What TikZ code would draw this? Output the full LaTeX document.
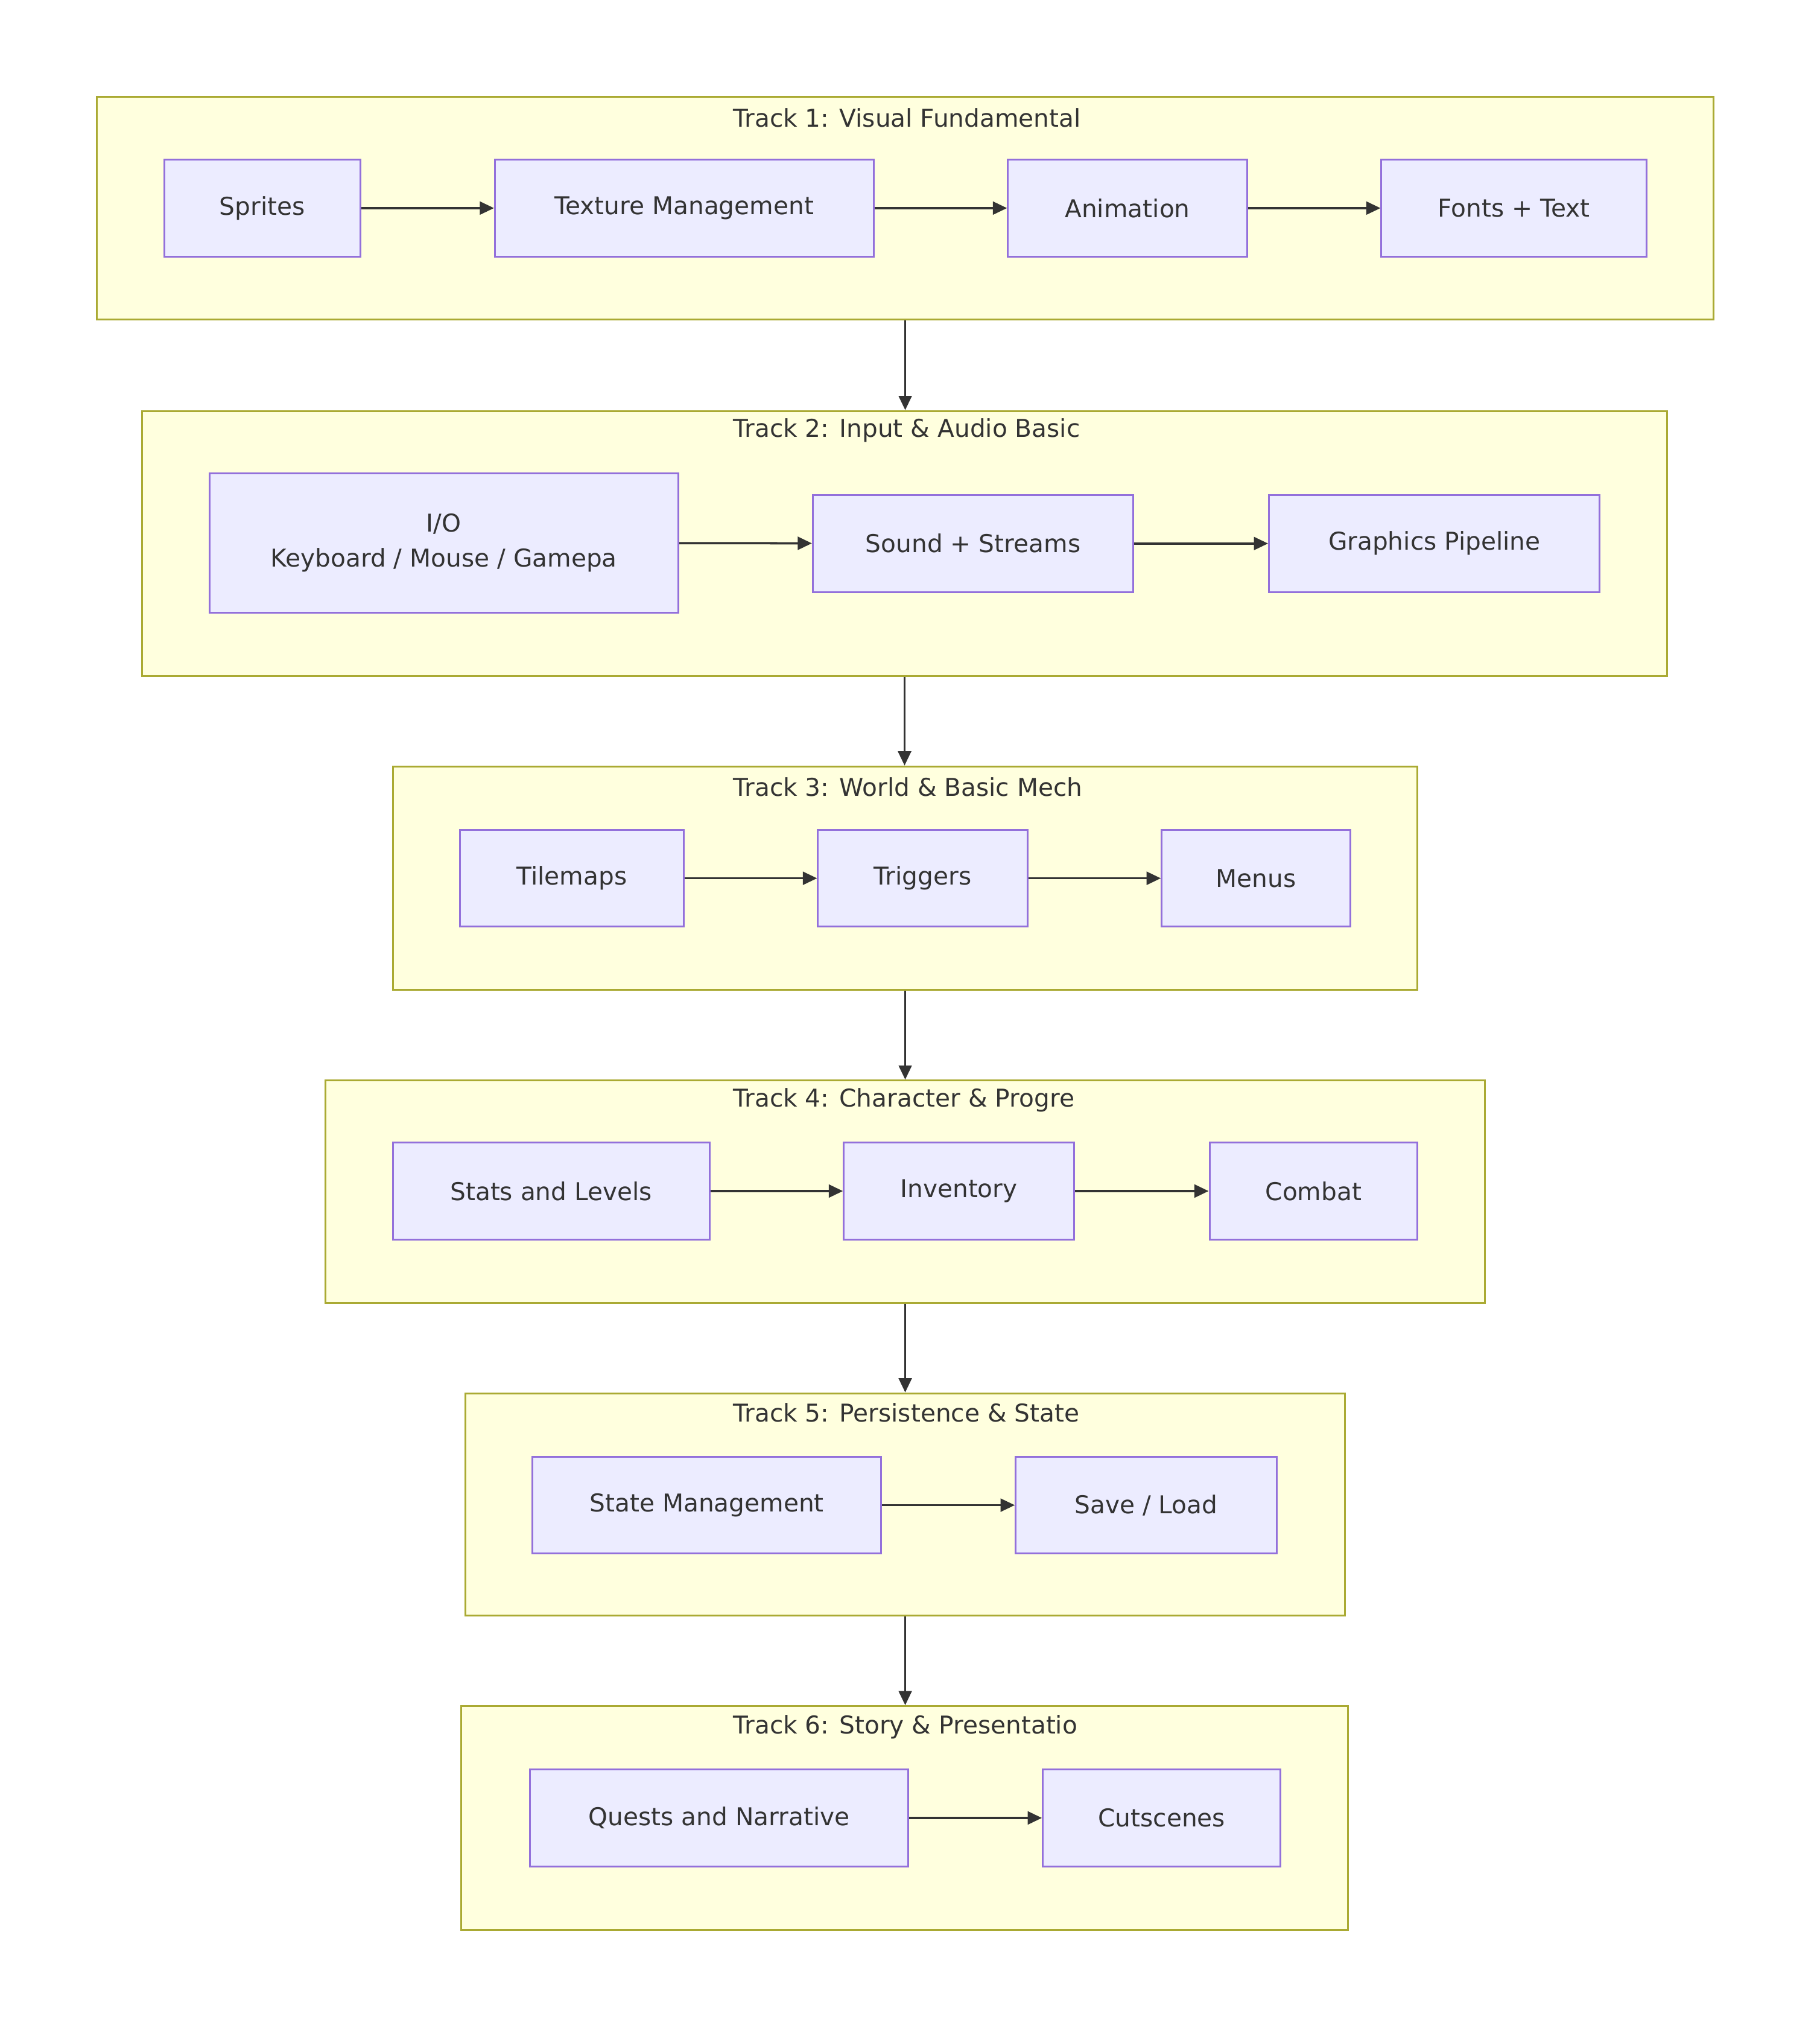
\documentclass[tikz,border=0pt]{standalone}
\usepackage{fontspec}
\setmainfont{DejaVu Sans}
\usetikzlibrary{arrows.meta, positioning}
\definecolor{trackfill}{HTML}{FFFFDE}
\definecolor{trackline}{HTML}{AAAA33}
\definecolor{stagefill}{HTML}{ECECFF}
\definecolor{stageline}{HTML}{9370DB}
\definecolor{arrowgray}{HTML}{333333}
\begin{document}
\begin{tikzpicture}[
    track/.style={rectangle, draw=trackline, fill=trackfill, line width=0.4pt, inner sep=0pt},
    stage/.style={rectangle, draw=stageline, fill=stagefill, line width=0.4pt, minimum height=0.75cm, align=center, font=\fontsize{5.4}{7.6}\selectfont, text=arrowgray},
    title/.style={anchor=west, font=\fontsize{5.4}{6.5}\selectfont, text=arrowgray},
    arrow/.style={-{Triangle[length=1.1mm, width=1mm]}, draw=arrowgray, line width=0.5pt}
]
    \useasboundingbox (0,0) rectangle (14.08,-15.76);

    % Track frames
    \node[track, minimum width=12.51cm, minimum height=1.72cm] (t1) at (7.005,-1.61) {};
    \node[track, minimum width=11.80cm, minimum height=2.05cm] (t2) at (7.00,-4.205) {};
    \node[track, minimum width=7.93cm, minimum height=1.73cm] (t3) at (7.005,-6.795) {};
    \node[track, minimum width=8.97cm, minimum height=1.72cm] (t4) at (7.005,-9.22) {};
    \node[track, minimum width=6.81cm, minimum height=1.72cm] (t5) at (7.005,-11.64) {};
    \node[track, minimum width=6.86cm, minimum height=1.73cm] (t6) at (7.00,-14.065) {};

    % Track titles
    \node[title] (t1title) at (5.55,-0.91) {Track 1: Visual Fundamental};
    \node[title] (t2title) at (5.55,-3.33) {Track 2: Input \& Audio Basic};
    \node[title] (t3title) at (5.55,-6.09) {Track 3: World \& Basic Mech};
    \node[title] (t4title) at (5.55,-8.51) {Track 4: Character \& Progre};
    \node[title] (t5title) at (5.55,-10.93) {Track 5: Persistence \& State};
    \node[title] (t6title) at (5.55,-13.36) {Track 6: Story \& Presentatio};

    % Track 1
    \node[stage, minimum width=1.52cm] (sprites) at (2.03,-1.61) {Sprites};
    \node[stage, minimum width=2.93cm] (texture) at (5.295,-1.61) {Texture Management};
    \node[stage, minimum width=1.85cm] (anim) at (8.725,-1.61) {Animation};
    \node[stage, minimum width=2.05cm] (fonts) at (11.715,-1.61) {Fonts + Text};

    % Track 2
    \node[stage, minimum width=3.63cm, minimum height=1.08cm] (io) at (3.435,-4.20) {I/O\\Keyboard / Mouse / Gamepa};
    \node[stage, minimum width=2.48cm] (sound) at (7.53,-4.205) {Sound + Streams};
    \node[stage, minimum width=2.56cm] (gfx) at (11.10,-4.205) {Graphics Pipeline};

    % Track 3
    \node[stage, minimum width=1.73cm] (tilemaps) at (4.425,-6.795) {Tilemaps};
    \node[stage, minimum width=1.62cm] (triggers) at (7.14,-6.795) {Triggers};
    \node[stage, minimum width=1.46cm] (menus) at (9.72,-6.795) {Menus};

    % Track 4
    \node[stage, minimum width=2.45cm] (stats) at (4.265,-9.215) {Stats and Levels};
    \node[stage, minimum width=1.78cm] (inventory) at (7.42,-9.215) {Inventory};
    \node[stage, minimum width=1.61cm] (combat) at (10.165,-9.215) {Combat};

    % Track 5
    \node[stage, minimum width=2.70cm] (state) at (5.47,-11.645) {State Management};
    \node[stage, minimum width=2.02cm] (saveload) at (8.87,-11.645) {Save / Load};

    % Track 6
    \node[stage, minimum width=2.93cm] (quests) at (5.565,-14.065) {Quests and Narrative};
    \node[stage, minimum width=1.84cm] (cutscenes) at (8.99,-14.065) {Cutscenes};

    % Arrows - inside tracks
    \draw[arrow] (sprites) -- (texture);
    \draw[arrow] (texture) -- (anim);
    \draw[arrow] (anim) -- (fonts);
    \draw[arrow] (io) -- (sound);
    \draw[arrow] (sound) -- (gfx);
    \draw[arrow] (tilemaps) -- (triggers);
    \draw[arrow] (triggers) -- (menus);
    \draw[arrow] (stats) -- (inventory);
    \draw[arrow] (inventory) -- (combat);
    \draw[arrow] (state) -- (saveload);
    \draw[arrow] (quests) -- (cutscenes);

    % Arrows - between tracks
    \draw[arrow] (t1.south) -- (t1.south |- t2.north);
    \draw[arrow] (t2.south) -- (t2.south |- t3.north);
    \draw[arrow] (t3.south) -- (t3.south |- t4.north);
    \draw[arrow] (t4.south) -- (t4.south |- t5.north);
    \draw[arrow] (t5.south) -- (t5.south |- t6.north);
\end{tikzpicture}
\end{document}
